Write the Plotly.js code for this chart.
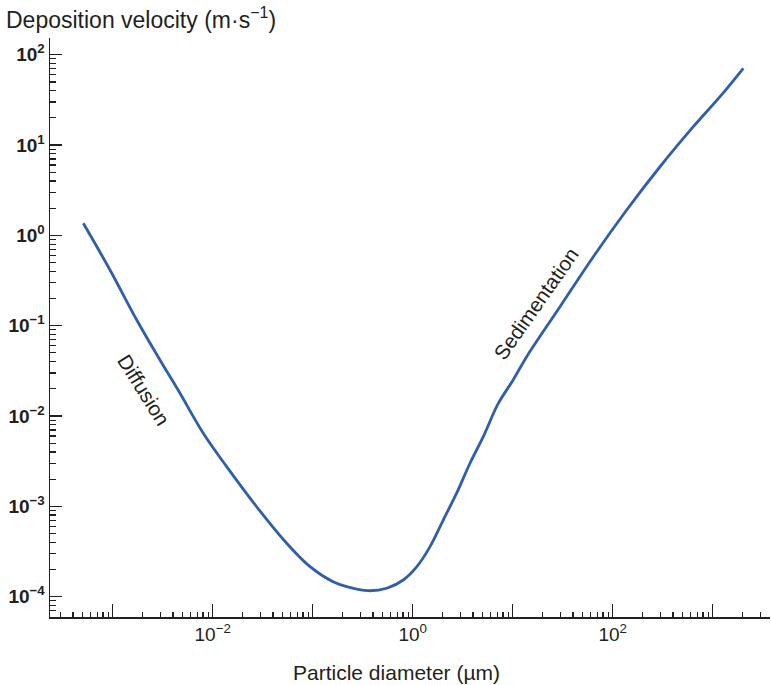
<!DOCTYPE html>
<html>
<head>
<meta charset="utf-8">
<script src="https://cdn.plot.ly/plotly-3.0.1.min.js"></script>
<style>html,body{margin:0;padding:0;background:#fff;}#chart{width:771px;height:685px;}</style>
</head>
<body>
<div id="chart"></div>
<script>
// Particle diameter (µm)
const diameter = [5.08e-4, 9.4e-4, 1.74e-3, 2.97e-3, 4.71e-3, 8.05e-3, 0.0138, 0.0275, 0.055, 0.094,
  0.16, 0.219, 0.36, 0.55, 0.805, 1.10, 1.49, 2.02, 2.75, 3.74, 5.08, 7.13, 10.1, 13.8, 29.7, 64.0,
  138, 297, 640, 1183, 2023];
// Deposition velocity (m·s^-1)
const velocity = [1.36, 0.414, 0.1156, 0.0417, 0.01786, 6.44e-3, 2.75e-3, 9.9e-4, 3.9e-4, 2.15e-4,
  1.46e-4, 1.29e-4, 1.164e-4, 1.24e-4, 1.53e-4, 2.15e-4, 3.58e-4, 7.06e-4, 1.40e-3, 3.0e-3, 5.9e-3,
  0.0136, 0.0251, 0.0454, 0.162, 0.581, 1.91, 5.75, 15.96, 34.3, 70.8];

const xLabelVals = [1e-2, 1, 100];
const xLabelText = ['10<sup>−2</sup>', '10<sup>0</sup>', '10<sup>2</sup>'];
const xPlainMajor = [1e-3, 1e-1, 10, 1000];
const yTickVals = [1e-4, 1e-3, 1e-2, 1e-1, 1, 10, 100];
const yTickText = ['10<sup>−4</sup>', '10<sup>−3</sup>', '10<sup>−2</sup>', '10<sup>−1</sup>', '10<sup>0</sup>', '10<sup>1</sup>', '10<sup>2</sup>'];

const labels = ['Diffusion', 'Sedimentation'];
const labelX = [-2.687, 1.231];   // log10 of diameter
const labelY = [-1.701, -0.751];  // log10 of velocity
const labelAngle = [58, -55];

function minorVals(lo, hi) {
  const v = [];
  for (let e = lo; e <= hi; e++) for (let m = 2; m <= 9; m++) v.push(m * Math.pow(10, e));
  return v;
}

const ink = '#231f20';
const font = 'Liberation Sans, Arial, Helvetica, sans-serif';
const xRange = [-3.627, 3.573];

const trace = {
  x: diameter, y: velocity, type: 'scatter', mode: 'lines',
  line: {color: '#2f5faa', width: 2.8, shape: 'spline', smoothing: 1},
  hoverinfo: 'x+y'
};
// empty helper trace so the overlaid tick-only axis is drawn
const helper = {x: [], y: [], type: 'scatter', mode: 'lines', xaxis: 'x2', yaxis: 'y', hoverinfo: 'skip', showlegend: false};

const layout = {
  width: 771, height: 685,
  margin: {l: 50, r: 1, t: 38, b: 68},
  paper_bgcolor: '#fff', plot_bgcolor: '#fff',
  showlegend: false,
  font: {family: font, color: ink},
  title: {
    text: 'Deposition velocity (m·s<sup>−1</sup>)',
    font: {family: font, size: 23, color: ink},
    xref: 'container', yref: 'container',
    x: 6 / 771, xanchor: 'left', y: 1 - 20 / 685, yanchor: 'middle'
  },
  xaxis: {
    type: 'log', range: xRange,
    showline: true, linecolor: ink, linewidth: 1.5,
    showgrid: false, zeroline: false,
    ticks: 'inside', ticklen: 13, tickwidth: 1.3, tickcolor: ink,
    tickmode: 'array', tickvals: xLabelVals, ticktext: xLabelText,
    tickfont: {family: font, size: 19, color: ink},
    minor: {tickmode: 'array', tickvals: minorVals(-4, 3), ticks: 'inside', ticklen: 5, tickwidth: 1.2, tickcolor: ink, showgrid: false}
  },
  xaxis2: {
    type: 'log', range: xRange, overlaying: 'x', anchor: 'y', side: 'bottom',
    showline: false, showgrid: false, zeroline: false, showticklabels: false,
    ticks: 'inside', ticklen: 13, tickwidth: 1.3, tickcolor: ink,
    tickmode: 'array', tickvals: xPlainMajor
  },
  yaxis: {
    type: 'log', range: [-4.225, 2.185],
    showline: true, linecolor: ink, linewidth: 1.5,
    showgrid: false, zeroline: false,
    ticks: 'inside', ticklen: 12, tickwidth: 1.3, tickcolor: ink,
    tickmode: 'array', tickvals: yTickVals, ticktext: yTickText,
    tickfont: {family: font, size: 19, color: ink, weight: 'bold'},
    minor: {tickmode: 'array', tickvals: minorVals(-5, 2), ticks: 'inside', ticklen: 6, tickwidth: 1.2, tickcolor: ink, showgrid: false}
  },
  annotations: labels.map((t, i) => ({
    text: t, x: labelX[i], y: labelY[i], xref: 'x', yref: 'y',
    showarrow: false, textangle: labelAngle[i],
    font: {family: font, size: 20.5, color: ink},
    xanchor: 'center', yanchor: 'middle'
  })).concat([{
    text: 'Particle diameter (µm)', xref: 'paper', yref: 'paper',
    x: (396 - 50) / 720, y: (617 - 672) / 579, xanchor: 'center', yanchor: 'middle',
    showarrow: false, font: {family: font, size: 21, color: ink}
  }])
};

Plotly.newPlot('chart', [trace, helper], layout, {displayModeBar: false, staticPlot: true});
</script>
</body>
</html>
